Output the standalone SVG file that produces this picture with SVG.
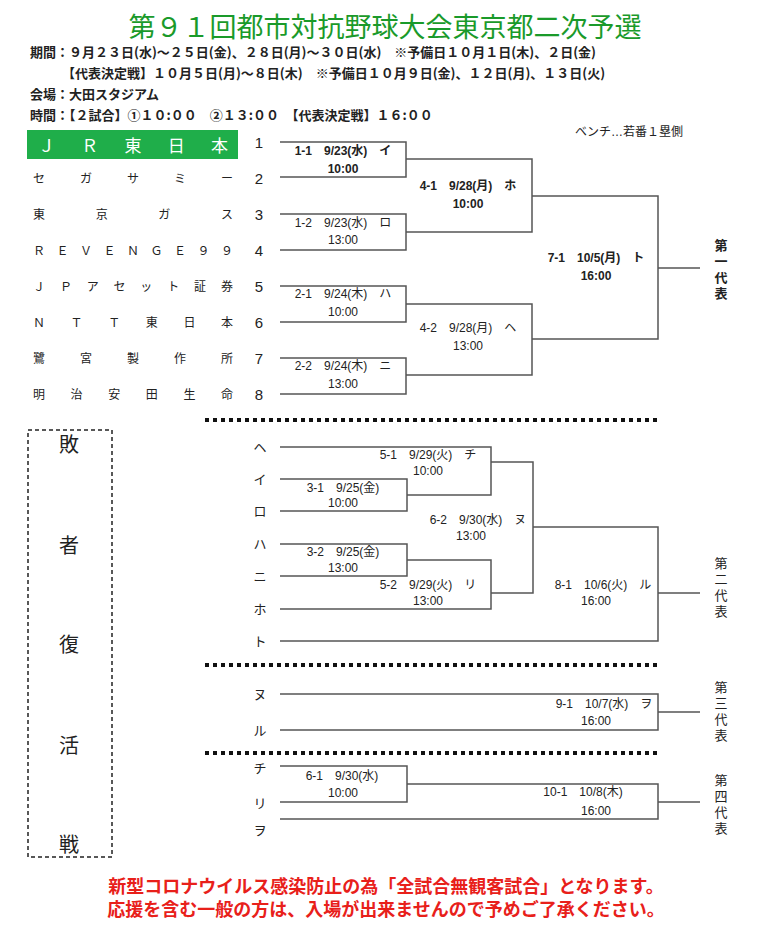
<svg xmlns="http://www.w3.org/2000/svg" width="770" height="937" viewBox="0 0 770 937">
<style>
text{font-family:"Liberation Sans","Noto Sans CJK JP",sans-serif;fill:#222}
.b{font-weight:bold}
.info{font-size:13px;font-weight:bold;font-family:"Noto Sans CJK JP",sans-serif}
.team{font-size:12px}
.num{font-size:15px;text-anchor:middle}
.lab{font-size:12px;text-anchor:middle}
.v{font-size:13px;text-anchor:middle}
.ln{fill:none;stroke:#555;stroke-width:1.5}
.dot{stroke:#111;stroke-width:4;stroke-dasharray:4 4}
</style>
<g id="header">
<text x="385" y="37" text-anchor="middle" style="font-size:27px;fill:#1a9a2a">第９１回都市対抗野球大会東京都二次予選</text>
<text class="info" x="30" y="57">期間：９月２３日(水)～２５日(金)、２８日(月)～３０日(水)　※予備日１０月１日(木)、２日(金)</text>
<text class="info" x="62" y="78">【代表決定戦】１０月５日(月)～８日(木)　※予備日１０月９日(金)、１２日(月)、１３日(火)</text>
<text class="info" x="30" y="99">会場：大田スタジアム</text>
<text class="info" x="30" y="120">時間：【２試合】①１０:００　②１３:００　【代表決定戦】１６:００</text>
<text x="575" y="136" style="font-size:12px">ベンチ…若番１塁側</text>
</g>
<g id="teams">
<rect x="27" y="130" width="211" height="29" fill="#1fae4a"/>
<text x="38" y="152" textLength="190" lengthAdjust="spacing" style="font-size:17px;fill:#fff">ＪＲ東日本</text>
<text class="team" x="33" y="183" textLength="200" lengthAdjust="spacing">セガサミー</text>
<text class="team" x="33" y="219" textLength="200" lengthAdjust="spacing">東京ガス</text>
<text class="team" x="33" y="255" textLength="200" lengthAdjust="spacing">ＲＥＶＥＮＧＥ９９</text>
<text class="team" x="33" y="291" textLength="200" lengthAdjust="spacing">ＪＰアセット証券</text>
<text class="team" x="33" y="327" textLength="200" lengthAdjust="spacing">ＮＴＴ東日本</text>
<text class="team" x="33" y="363" textLength="200" lengthAdjust="spacing">鷺宮製作所</text>
<text class="team" x="33" y="399" textLength="200" lengthAdjust="spacing">明治安田生命</text>
<text class="num" x="259" y="148">1</text><text class="num" x="259" y="184">2</text>
<text class="num" x="259" y="220">3</text><text class="num" x="259" y="256">4</text>
<text class="num" x="259" y="292">5</text><text class="num" x="259" y="328">6</text>
<text class="num" x="259" y="364">7</text><text class="num" x="259" y="400">8</text>
</g>
<g id="connectors">
<path class="ln" d="M280 142H406V177H280M280 214H406V250H280M280 286H406V322H280M280 358H406V394H280"/>
<path class="ln" d="M406 159H532V232H406M406 304H532V375H406M532 196H658V339H532M658 268H700"/>
<path class="ln" d="M280 447H491V495H407M280 479H407V511H280M280 544H407V576H280M407 560H491V609H280M491 462H533V593H491M533 527H658V641H280M658 593H700"/>
<path class="ln" d="M280 694H658V730H280M658 712H700"/>
<path class="ln" d="M280 766H407V802H280M407 784H658V819H280M658 802H700"/>
<path class="dot" d="M205 420H658M205 665H658M205 753H658"/>
<rect x="28" y="430" width="84" height="427" fill="none" stroke="#222" stroke-width="1.5" stroke-dasharray="4 3"/>
</g>
<g id="labels">
<text class="lab b" x="343" y="155">1-1　9/23(水)　イ</text><text class="lab b" x="343" y="173">10:00</text>
<text class="lab" x="343" y="227">1-2　9/23(水)　ロ</text><text class="lab" x="343" y="244">13:00</text>
<text class="lab" x="343" y="298">2-1　9/24(木)　ハ</text><text class="lab" x="343" y="316">10:00</text>
<text class="lab" x="343" y="370">2-2　9/24(木)　ニ</text><text class="lab" x="343" y="388">13:00</text>
<text class="lab b" x="468" y="190">4-1　9/28(月)　ホ</text><text class="lab b" x="468" y="208">10:00</text>
<text class="lab" x="468" y="332">4-2　9/28(月)　ヘ</text><text class="lab" x="468" y="350">13:00</text>
<text class="lab b" x="596" y="262">7-1　10/5(月)　ト</text><text class="lab b" x="596" y="280">16:00</text>
<text class="lab" x="428" y="459">5-1　9/29(火)　チ</text><text class="lab" x="428" y="475">10:00</text>
<text class="lab" x="343" y="492">3-1　9/25(金)</text><text class="lab" x="343" y="507">10:00</text>
<text class="lab" x="478" y="524">6-2　9/30(水)　ヌ</text><text class="lab" x="471" y="540">13:00</text>
<text class="lab" x="343" y="556">3-2　9/25(金)</text><text class="lab" x="343" y="572">13:00</text>
<text class="lab" x="428" y="589">5-2　9/29(火)　リ</text><text class="lab" x="428" y="605">13:00</text>
<text class="lab" x="603" y="589">8-1　10/6(火)　ル</text><text class="lab" x="596" y="605">16:00</text>
<text class="lab" x="604" y="708">9-1　10/7(水)　ヲ</text><text class="lab" x="596" y="725">16:00</text>
<text class="lab" x="342" y="780">6-1　9/30(水)</text><text class="lab" x="343" y="797">10:00</text>
<text class="lab" x="583" y="796">10-1　10/8(木)</text><text class="lab" x="596" y="815">16:00</text>
</g>
<g id="seeds">
<text class="v" x="260" y="452">ヘ</text><text class="v" x="260" y="484">イ</text><text class="v" x="260" y="516">ロ</text>
<text class="v" x="260" y="549">ハ</text><text class="v" x="260" y="581">ニ</text><text class="v" x="260" y="614">ホ</text>
<text class="v" x="260" y="646">ト</text><text class="v" x="260" y="699">ヌ</text><text class="v" x="260" y="735">ル</text>
<text class="v" x="260" y="773">チ</text><text class="v" x="260" y="808">リ</text><text class="v" x="260" y="835">ヲ</text>
</g>
<g id="reps">
<text class="v b" x="721" y="250">第</text><text class="v b" x="721" y="266">一</text><text class="v b" x="721" y="282">代</text><text class="v b" x="721" y="298">表</text>
<text class="v" x="721" y="568">第</text><text class="v" x="721" y="584">二</text><text class="v" x="721" y="600">代</text><text class="v" x="721" y="616">表</text>
<text class="v" x="721" y="692">第</text><text class="v" x="721" y="708">三</text><text class="v" x="721" y="724">代</text><text class="v" x="721" y="740">表</text>
<text class="v" x="721" y="785">第</text><text class="v" x="721" y="801">四</text><text class="v" x="721" y="817">代</text><text class="v" x="721" y="833">表</text>
</g>
<g id="haisha">
<text x="69" y="452" style="font-size:20px;text-anchor:middle">敗</text>
<text x="69" y="553" style="font-size:20px;text-anchor:middle">者</text>
<text x="69" y="652" style="font-size:20px;text-anchor:middle">復</text>
<text x="69" y="753" style="font-size:20px;text-anchor:middle">活</text>
<text x="69" y="852" style="font-size:20px;text-anchor:middle">戦</text>
</g>
<g id="footer">
<text x="386" y="893" style="font-size:18px;font-weight:bold;fill:#e8201a;text-anchor:middle">新型コロナウイルス感染防止の為「全試合無観客試合」となります。</text>
<text x="386" y="916" style="font-size:18px;font-weight:bold;fill:#e8201a;text-anchor:middle">応援を含む一般の方は、入場が出来ませんので予めご了承ください。</text>
</g>
</svg>
